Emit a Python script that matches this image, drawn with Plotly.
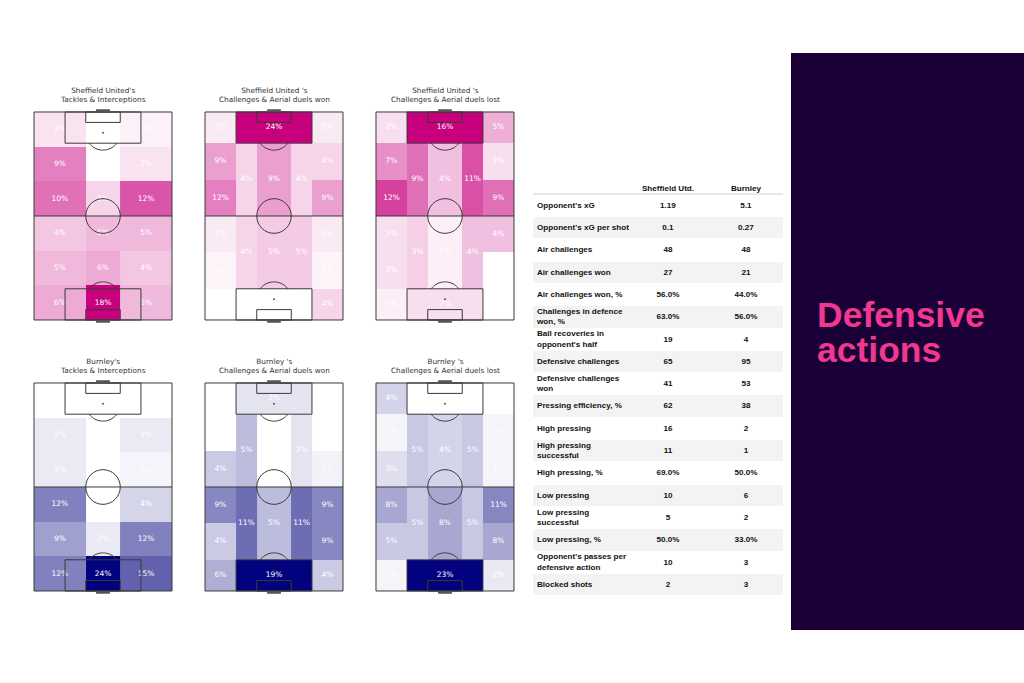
import numpy as np
import plotly.graph_objects as go

W, H = 1024, 683

# ---------------- data ----------------
# Tackles & interceptions: 6 rows (top -> bottom) x 3 lanes (left, centre, right), %
sheff_tackles = [
    [2, 0, 1],
    [9, 0, 2],
    [10, 3, 12],
    [4, 5, 5],
    [5, 6, 4],
    [6, 18, 5],
]
burnley_tackles = [
    [0, 0, 0],
    [2, 0, 2],
    [2, 0, 1],
    [12, 0, 4],
    [9, 2, 12],
    [12, 24, 15],
]

# Positional zones: wide lanes (6 cells top->bottom), central lanes
# (3 lanes top half, then 3 lanes bottom half), penalty boxes (top, bottom)
sheff_won_left = [2, 9, 12, 2, 1, 0]
sheff_won_right = [2, 4, 9, 2, 1, 4]
sheff_won_mid = [4, 9, 4, 4, 5, 5]
sheff_won_box = [24, 0]

sheff_lost_left = [2, 7, 12, 2, 2, 1]
sheff_lost_right = [5, 2, 9, 4, 0, 0]
sheff_lost_mid = [9, 4, 11, 3, 1, 4]
sheff_lost_box = [16, 2]

burnley_won_left = [0, 0, 4, 9, 4, 6]
burnley_won_right = [0, 0, 1, 9, 9, 4]
burnley_won_mid = [5, 0, 2, 11, 5, 11]
burnley_won_box = [2, 19]

burnley_lost_left = [4, 1, 3, 8, 5, 1]
burnley_lost_right = [0, 1, 1, 11, 8, 2]
burnley_lost_mid = [5, 4, 5, 5, 8, 5]
burnley_lost_box = [0, 23]

titles = [
    "Sheffield United's<br>Tackles & Interceptions",
    "Sheffield United 's<br>Challenges & Aerial duels won",
    "Sheffield United 's<br>Challenges & Aerial duels lost",
    "Burnley's<br>Tackles & Interceptions",
    "Burnley 's<br>Challenges & Aerial duels won",
    "Burnley 's<br>Challenges & Aerial duels lost",
]

table_labels = [
    "Opponent's xG", "Opponent's xG per shot", "Air challenges", "Air challenges won",
    "Air challenges won, %", "Challenges in defence<br>won, %", "Ball recoveries in<br>opponent's half",
    "Defensive challenges", "Defensive challenges<br>won", "Pressing efficiency, %",
    "High pressing", "High pressing<br>successful", "High pressing, %", "Low pressing",
    "Low pressing<br>successful", "Low pressing, %", "Opponent's passes per<br>defensive action",
    "Blocked shots",
]
table_sheff = ["1.19", "0.1", "48", "27", "56.0%", "63.0%", "19", "65", "41", "62",
               "16", "11", "69.0%", "10", "5", "50.0%", "10", "2"]
table_burnley = ["5.1", "0.27", "48", "21", "44.0%", "56.0%", "4", "95", "53", "38",
                 "2", "1", "50.0%", "6", "2", "33.0%", "3", "3"]
table_header = ["Sheffield Utd.", "Burnley"]

# ---------------- styling ----------------
PINK = "#C8007E"
NAVY = "#02027E"
LINE = "#3a3a3a"

pitch_lefts = [34, 205, 376]
pitch_tops = [112, 383]
PW, PH = 138, 208  # px for 80 x 120 units
ux, uy = PW / 80.0, PH / 120.0
padx, pady = 3, 4

fig = go.Figure()
layout_axes = {}
shapes = []
annotations = []


def pos_grid(left, right, mid, box):
    rows = [
        [left[0], box[0], box[0], box[0], right[0]],
        [left[1], mid[0], mid[1], mid[2], right[1]],
        [left[2], mid[0], mid[1], mid[2], right[2]],
        [left[3], mid[3], mid[4], mid[5], right[3]],
        [left[4], mid[3], mid[4], mid[5], right[4]],
        [left[5], box[1], box[1], box[1], right[5]],
    ]
    return rows[::-1]


def pos_labels(left, right, mid, box):
    xs, ys, ts = [], [], []
    row_c = [111, 91.5, 70.5, 49.5, 28.5, 9]
    for i in range(6):
        xs += [9, 71]
        ys += [row_c[i], row_c[i]]
        ts += [f"{left[i]}%", f"{right[i]}%"]
    for j, x in enumerate([24, 40, 56]):
        xs += [x, x]
        ys += [81, 39]
        ts += [f"{mid[j]}%", f"{mid[j + 3]}%"]
    xs += [40, 40]
    ys += [111, 9]
    ts += [f"{box[0]}%", f"{box[1]}%"]
    return xs, ys, ts


pitches = [
    ("tackles", sheff_tackles, PINK),
    ("pos", (sheff_won_left, sheff_won_right, sheff_won_mid, sheff_won_box), PINK),
    ("pos", (sheff_lost_left, sheff_lost_right, sheff_lost_mid, sheff_lost_box), PINK),
    ("tackles", burnley_tackles, NAVY),
    ("pos", (burnley_won_left, burnley_won_right, burnley_won_mid, burnley_won_box), NAVY),
    ("pos", (burnley_lost_left, burnley_lost_right, burnley_lost_mid, burnley_lost_box), NAVY),
]

for k, (kind, data, color) in enumerate(pitches):
    n = k + 1
    xa = "x" if n == 1 else f"x{n}"
    ya = "y" if n == 1 else f"y{n}"
    left_px = pitch_lefts[k % 3]
    top_px = pitch_tops[k // 3]
    x0 = (left_px - padx * ux) / W
    x1 = (left_px + PW + padx * ux) / W
    y1 = 1 - (top_px - pady * uy) / H
    y0 = 1 - (top_px + PH + pady * uy) / H
    layout_axes["xaxis" if n == 1 else f"xaxis{n}"] = dict(
        domain=[x0, x1], range=[-padx, 80 + padx], visible=False, fixedrange=True,
        anchor=ya)
    layout_axes["yaxis" if n == 1 else f"yaxis{n}"] = dict(
        domain=[y0, y1], range=[-pady, 120 + pady], visible=False, fixedrange=True,
        anchor=xa)

    if kind == "tackles":
        z = [list(r) for r in data][::-1]
        xe = [0, 30, 50, 80]
        ye = [0, 20, 40, 60, 80, 100, 120]
        lx, ly, lt = [], [], []
        for r in range(6):
            for c in range(3):
                lx.append([15, 40, 65][c])
                ly.append(110 - 20 * r)
                lt.append(f"{data[r][c]}%")
    else:
        z = pos_grid(*data)
        xe = [0, 18, 30, 50, 62, 80]
        ye = [0, 18, 39, 60, 81, 102, 120]
        lx, ly, lt = pos_labels(*data)
    zmax = max(max(r) for r in z)
    fig.add_trace(go.Heatmap(
        x=xe, y=ye, z=z, zmin=0, zmax=zmax,
        colorscale=[[0, "#ffffff"], [1, color]], showscale=False,
        hoverinfo="skip", xaxis=xa, yaxis=ya))
    fig.add_trace(go.Scatter(
        x=lx, y=ly, text=lt, mode="text", hoverinfo="skip",
        textfont=dict(family="DejaVu Sans", size=7.5, color="#ffffff"),
        xaxis=xa, yaxis=ya, showlegend=False))

    def sh(**kw):
        d = dict(xref=xa, yref=ya, line=dict(color=LINE, width=1), layer="above")
        d.update(kw)
        shapes.append(d)

    sh(type="rect", x0=0, y0=0, x1=80, y1=120)
    sh(type="line", x0=0, y0=60, x1=80, y1=60)
    sh(type="circle", x0=30, y0=50, x1=50, y1=70)
    sh(type="rect", x0=18, y0=0, x1=62, y1=18)
    sh(type="rect", x0=18, y0=102, x1=62, y1=120)
    sh(type="rect", x0=30, y0=0, x1=50, y1=6)
    sh(type="rect", x0=30, y0=114, x1=50, y1=120)
    sh(type="line", x0=36, y0=-0.9, x1=44, y1=-0.9, line=dict(color="#555555", width=2.5))
    sh(type="line", x0=36, y0=120.9, x1=44, y1=120.9, line=dict(color="#555555", width=2.5))
    for cy in (12, 108):
        sh(type="circle", x0=39.6, y0=cy - 0.4, x1=40.4, y1=cy + 0.4,
           fillcolor=LINE, line=dict(color=LINE, width=0.5))
    # penalty arcs
    t = np.linspace(np.arcsin(0.6), np.pi - np.arcsin(0.6), 30)
    pts_b = [(40 + 10 * np.cos(a), 12 + 10 * np.sin(a)) for a in t]
    pts_t = [(40 + 10 * np.cos(a), 108 - 10 * np.sin(a)) for a in t]
    for pts in (pts_b, pts_t):
        path = "M " + " L ".join(f"{px:.3f},{py:.3f}" for px, py in pts)
        sh(type="path", path=path)

    # title
    annotations.append(dict(
        text=titles[k], xref="paper", yref="paper",
        x=(left_px + PW / 2) / W, y=1 - (top_px - 17) / H,
        xanchor="center", yanchor="middle", showarrow=False,
        font=dict(family="DejaVu Sans", size=7.3, color="#333333")))

# ---------------- table (own axes) ----------------
n_rows = len(table_labels)
row_idx = list(range(n_rows))
ROW0, ROWH = 205.7, 22.3
TL, TR = 533, 783
t_top = ROW0 - 1.5 * ROWH
t_bot = ROW0 + (n_rows - 0.5) * ROWH
layout_axes["xaxis7"] = dict(domain=[TL / W, TR / W], range=[0, TR - TL], visible=False,
                             fixedrange=True, anchor="y7")
layout_axes["yaxis7"] = dict(domain=[1 - t_bot / H, 1 - t_top / H],
                             range=[n_rows - 0.5, -1.5], visible=False,
                             fixedrange=True, anchor="x7")
grey_rows = [i for i in row_idx if i % 2 == 1]
fig.add_trace(go.Bar(
    y=grey_rows, x=[TR - TL] * len(grey_rows), base=0, orientation="h", width=0.96,
    marker=dict(color="#f3f3f3", line=dict(width=0)), hoverinfo="skip",
    xaxis="x7", yaxis="y7", showlegend=False))
tfont = dict(family="Liberation Sans", size=8.1, color="#111111")
fig.add_trace(go.Scatter(
    x=[4] * n_rows, y=row_idx, text=[f"<b>{v}</b>" for v in table_labels],
    mode="text", textposition="middle right", textfont=tfont, hoverinfo="skip",
    xaxis="x7", yaxis="y7", showlegend=False))
fig.add_trace(go.Scatter(
    x=[668 - TL] * n_rows, y=row_idx, text=[f"<b>{v}</b>" for v in table_sheff],
    mode="text", textposition="middle center", textfont=tfont, hoverinfo="skip",
    xaxis="x7", yaxis="y7", showlegend=False))
fig.add_trace(go.Scatter(
    x=[746 - TL] * n_rows, y=row_idx, text=[f"<b>{v}</b>" for v in table_burnley],
    mode="text", textposition="middle center", textfont=tfont, hoverinfo="skip",
    xaxis="x7", yaxis="y7", showlegend=False))
fig.add_trace(go.Scatter(
    x=[668 - TL, 746 - TL], y=[-0.75, -0.75], text=[f"<b>{v}</b>" for v in table_header],
    mode="text", textposition="middle center", textfont=tfont, hoverinfo="skip",
    xaxis="x7", yaxis="y7", showlegend=False))
shapes.append(dict(type="line", xref="x7", yref="y7", x0=0, x1=TR - TL, y0=-0.52, y1=-0.52,
                   line=dict(color="#d0d0d0", width=1)))

# ---------------- right panel ----------------
shapes.append(dict(type="rect", xref="paper", yref="paper",
                   x0=791 / W, x1=1.0, y0=1 - 630 / H, y1=1 - 53 / H,
                   fillcolor="#1a0036", line=dict(color="#1a0036", width=0), layer="below"))
for txt, py in (("Defensive", 315), ("actions", 350)):
    annotations.append(dict(
        text=f"<b>{txt}</b>", xref="paper", yref="paper", x=815 / W, y=1 - py / H,
        xanchor="left", yanchor="middle", showarrow=False,
        font=dict(family="Liberation Sans", size=35.5, color="#F0388F")))

fig.update_layout(
    width=W, height=H, margin=dict(l=0, r=0, t=0, b=0),
    paper_bgcolor="#ffffff", plot_bgcolor="rgba(0,0,0,0)",
    showlegend=False, shapes=shapes, annotations=annotations, bargap=0,
    **layout_axes)

fig.write_html("out.html")
